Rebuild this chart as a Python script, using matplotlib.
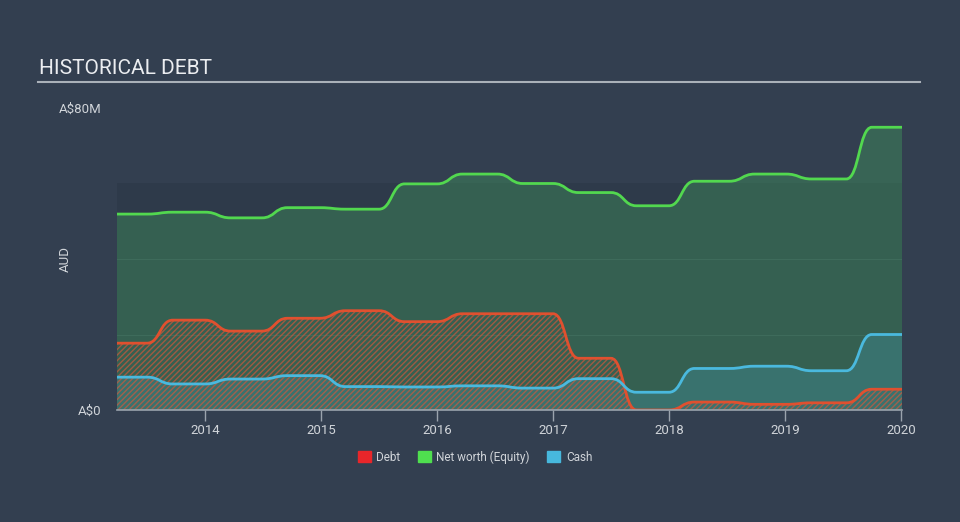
import matplotlib
matplotlib.use("Agg")
import matplotlib.pyplot as plt
from matplotlib.path import Path
from matplotlib.patches import PathPatch, Patch

plt.rcParams['font.family'] = ['Roboto', 'DejaVu Sans']
plt.rcParams['hatch.linewidth'] = 1.0

# half-yearly report dates (decimal years) and values in A$M
dates = [2013.24, 2013.72, 2014.22, 2014.71, 2015.21, 2015.72, 2016.22,
         2016.74, 2017.22, 2017.72, 2018.22, 2018.74, 2019.23, 2019.75]
end_date = 2020.01
equity = [51.9, 52.4, 50.9, 53.6, 53.2, 59.9, 62.5, 60.0, 57.6, 54.1, 60.6, 62.5, 61.2, 74.9]
debt = [17.7, 23.8, 20.9, 24.3, 26.3, 23.4, 25.5, 25.5, 13.7, 0.0, 2.1, 1.5, 1.9, 5.5]
cash = [8.7, 6.9, 8.2, 9.1, 6.2, 6.1, 6.4, 5.8, 8.3, 4.7, 11.0, 11.6, 10.4, 20.0]
years = [2014, 2015, 2016, 2017, 2018, 2019, 2020]

BG = "#333f50"
RAMP = 0.22


def curve(vals):
    # held value per period, smooth S-shaped change into the next report
    verts = [(dates[0], vals[0])]
    codes = [Path.MOVETO]
    for i in range(len(vals) - 1):
        x1 = dates[i + 1]
        x0 = x1 - RAMP
        verts += [(x0, vals[i])]
        codes += [Path.LINETO]
        mid = (x0 + x1) / 2
        verts += [(mid, vals[i]), (mid, vals[i + 1]), (x1, vals[i + 1])]
        codes += [Path.CURVE4] * 3
    verts += [(end_date, vals[-1])]
    codes += [Path.LINETO]
    return verts, codes


def area(vals):
    verts, codes = curve(vals)
    verts = [(dates[0], 0)] + verts + [(end_date, 0), (dates[0], 0)]
    codes = [Path.MOVETO] + [Path.LINETO] + codes[1:] + [Path.LINETO, Path.CLOSEPOLY]
    return Path(verts, codes)


fig = plt.figure(figsize=(9.6, 5.22), dpi=100, facecolor=BG)
ax = fig.add_axes([117 / 960, 112 / 522, 785 / 960, 302 / 522])
ax.set_facecolor(BG)
ax.set_xlim(dates[0], end_date)
ax.set_ylim(0, 80)

ax.axhspan(0, 60, color="#2e3a4a", zorder=0, lw=0)
for g in (20, 40):
    ax.axhline(g, color="#3c4a5a", lw=0.8, zorder=0.5)

ax.add_patch(PathPatch(area(equity), facecolor="#44b060", alpha=0.33, lw=0, zorder=1))
ax.add_patch(PathPatch(area(cash), facecolor="#48b4d8", alpha=0.22, lw=0, zorder=2))
ax.add_patch(PathPatch(area(debt), facecolor="none", edgecolor="#d9573a", hatch="//////",
                       lw=0, alpha=0.65, zorder=3))

for vals, col in ((equity, "#52d84f"), (debt, "#e0502f"), (cash, "#4ab9de")):
    v, c = curve(vals)
    ax.add_patch(PathPatch(Path(v, c), facecolor="none", edgecolor=col, lw=2, zorder=4))

for s in ("top", "right", "left"):
    ax.spines[s].set_visible(False)
ax.spines["bottom"].set_color("#9aa3ad")
ax.spines["bottom"].set_linewidth(1.2)
ax.spines["bottom"].set_zorder(5)

ax.set_xticks(years)
ax.set_xticklabels([str(y) for y in years])
ax.tick_params(axis="x", colors="#9aa3ad", labelcolor="#d0d4d9", labelsize=9.5,
               length=8, width=1, pad=2)
ax.set_yticks([0, 80])
ax.set_yticklabels(["A$0", "A$80M"])
ax.tick_params(axis="y", length=0, labelcolor="#d0d4d9", labelsize=9.5, pad=11)
ax.set_ylabel("AUD", color="#d0d4d9", fontsize=9.5)
ax.yaxis.set_label_coords(-0.058, 0.5)

fig.text(39 / 960, 1 - 69 / 522, "HISTORICAL DEBT", color="#ebedf0", fontsize=15,
         va="center", ha="left")
fig.add_artist(plt.Line2D([38 / 960, 920 / 960], [1 - 82 / 522, 1 - 82 / 522],
                          color="#aab1b9", lw=1.5))

handles = [Patch(color="#e8262a", label="Debt"),
           Patch(color="#4fdf4f", label="Net worth (Equity)"),
           Patch(color="#47b8dd", label="Cash")]
leg = fig.legend(handles=handles, loc="center", bbox_to_anchor=(475 / 960, 1 - 457 / 522),
                 ncol=3, frameon=False, fontsize=8.5, handlelength=1.1, handleheight=1.1,
                 columnspacing=1.5, handletextpad=0.45)
for t in leg.get_texts():
    t.set_color("#d0d4d9")

fig.savefig("out.png", dpi=100, facecolor=BG)
